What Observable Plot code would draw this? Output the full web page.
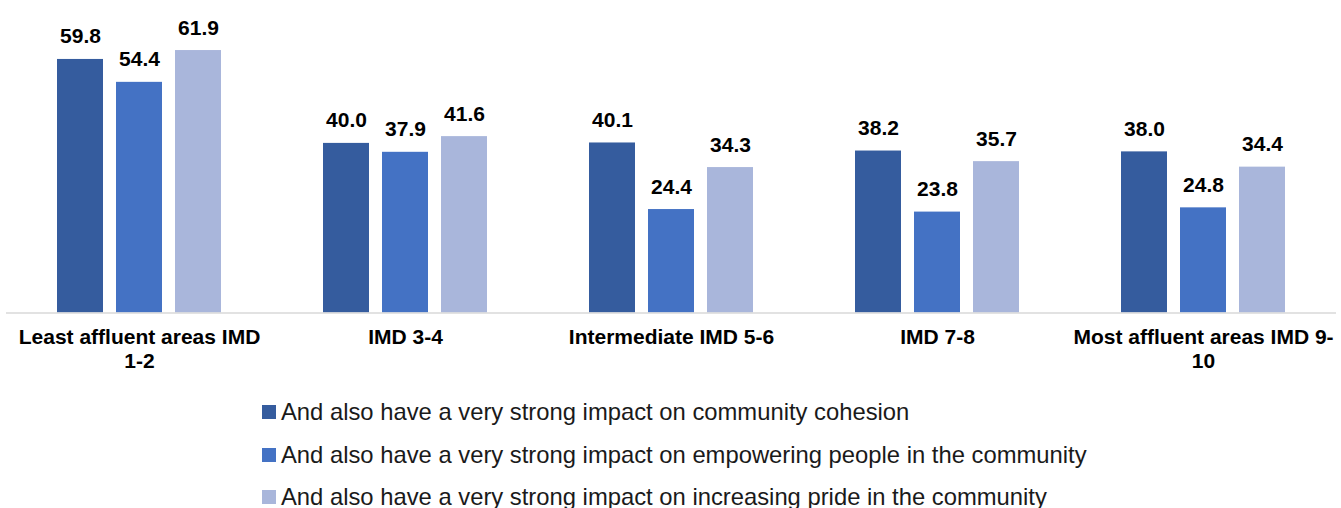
<!DOCTYPE html>
<html>
<head>
<meta charset="utf-8">
<script src="https://cdn.jsdelivr.net/npm/d3@7"></script>
<script src="https://cdn.jsdelivr.net/npm/@observablehq/plot@0.6"></script>
<style>
  html, body { margin: 0; padding: 0; background: #fff; }
  body { font-family: "Liberation Sans", Arial, sans-serif; width: 1341px; height: 508px; overflow: hidden; }
  #chart svg { display: block; }
  #legend { margin-top: 5.5px; padding-left: 262px; }
  .row { height: 42.7px; display: flex; align-items: center; font-size: 23.8px; color: #1a1a1a; white-space: nowrap; }
  .sw { width: 14px; height: 14px; margin-right: 5px; flex: none; }
</style>
</head>
<body>
<div id="chart"></div>
<div id="legend"></div>
<script>
const groups = ["Least affluent areas IMD 1-2", "IMD 3-4", "Intermediate IMD 5-6", "IMD 7-8", "Most affluent areas IMD 9-10"];
const groupLabels = ["Least affluent areas IMD\n1-2", "IMD 3-4", "Intermediate IMD 5-6", "IMD 7-8", "Most affluent areas IMD 9-\n10"];
const series = [
  "And also have a very strong impact on community cohesion",
  "And also have a very strong impact on empowering people in the community",
  "And also have a very strong impact on increasing pride in the community"
];
const colors = ["#355C9E", "#4472C4", "#A9B6DB"];
const cohesion = [59.8, 40.0, 40.1, 38.2, 38.0];
const empowering = [54.4, 37.9, 24.4, 23.8, 24.8];
const pride = [61.9, 41.6, 34.3, 35.7, 34.4];

const valuesBySeries = [cohesion, empowering, pride];
const data = [];
groups.forEach((g, i) => {
  series.forEach((s, j) => data.push({group: g, series: s, value: valuesBySeries[j][i]}));
});
const labelOf = new Map(groups.map((g, i) => [g, groupLabels[i]]));

const chart = Plot.plot({
  width: 1341,
  height: 385,
  marginLeft: 4,
  marginRight: 4,
  marginTop: 15.7,
  marginBottom: 72.5,
  style: {fontFamily: "'Liberation Sans', Arial, sans-serif", background: "#fff"},
  fx: {domain: groups, padding: 0, label: null, axis: null},
  x: {domain: series, paddingInner: 0.218, paddingOuter: 0.85, axis: null},
  y: {domain: [0, 70], axis: null},
  color: {domain: series, range: colors},
  marks: [
    Plot.barY(data, {fx: "group", x: "series", y: "value", fill: "series"}),
    Plot.ruleY([0], {stroke: "#d9d9d9", strokeWidth: 1.5}),
    Plot.text(data, {fx: "group", x: "series", y: "value", text: d => d.value.toFixed(1),
      lineAnchor: "bottom", dy: -16, fontSize: 21, fontWeight: "bold", fill: "#000"}),
    Plot.axisFx({domain: groups, anchor: "bottom", tickSize: 0, tickPadding: 15, tickFormat: g => labelOf.get(g),
      fontSize: 21, fontWeight: "bold", fill: "#000", label: null, lineHeight: 1.1})
  ]
});
document.getElementById("chart").appendChild(chart);

const legend = document.getElementById("legend");
series.forEach((s, j) => {
  const row = document.createElement("div");
  row.className = "row";
  const sw = document.createElement("span");
  sw.className = "sw";
  sw.style.background = colors[j];
  const t = document.createElement("span");
  t.textContent = s;
  row.appendChild(sw);
  row.appendChild(t);
  legend.appendChild(row);
});
</script>
</body>
</html>
